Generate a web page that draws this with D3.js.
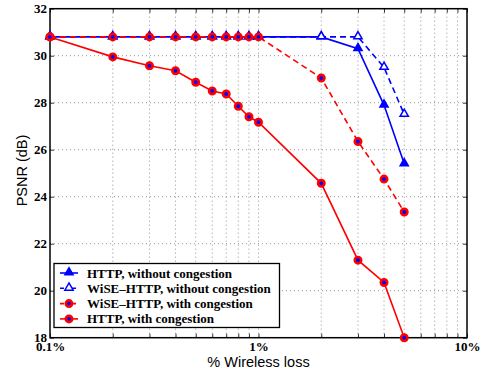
<!DOCTYPE html>
<html>
<head>
<meta charset="utf-8">
<script src="https://cdn.jsdelivr.net/npm/d3@7"></script>
<style>
  html, body { margin: 0; padding: 0; background: #fff; }
  svg { display: block; }
</style>
</head>
<body>
<svg id="chart" width="483" height="372"></svg>
<script>
// Wireless loss rates (%) sampled on the x axis
const lossRates = [0.1, 0.2, 0.3, 0.4, 0.5, 0.6, 0.7, 0.8, 0.9, 1, 2, 3, 4, 5];

// PSNR (dB) per scheme
const httpNoCong     = [30.8, 30.8, 30.8, 30.8, 30.8, 30.8, 30.8, 30.8, 30.8, 30.8, 30.8, 30.3, 27.9, 25.4];
const wiseNoCong     = [30.8, 30.8, 30.8, 30.8, 30.8, 30.8, 30.8, 30.8, 30.8, 30.8, 30.8, 30.8, 29.5, 27.5];
const wiseCong       = [30.8, 30.8, 30.8, 30.8, 30.8, 30.8, 30.8, 30.8, 30.8, 30.8, 29.05, 26.35, 24.75, 23.35];
const httpCong       = [30.8, 29.95, 29.57, 29.36, 28.87, 28.5, 28.37, 27.85, 27.4, 27.17, 24.57, 21.3, 20.35, 18.0];

const seriesNames = [
  "HTTP, without congestion",
  "WiSE\u2013HTTP, without congestion",
  "WiSE\u2013HTTP, with congestion",
  "HTTP, with congestion"
];

const yTicks = [18, 20, 22, 24, 26, 28, 30, 32];
const xMajorTicks = [0.1, 1, 10];
const xTickLabels = ["0.1%", "1%", "10%"];
const xMinorTicks = [0.2, 0.3, 0.4, 0.5, 0.6, 0.7, 0.8, 0.9, 1, 2, 3, 4, 5, 6, 7, 8, 9];

const svg = d3.select("#chart");
const plotLeft = 50, plotRight = 467, plotTop = 8.7, plotBottom = 337.7;

const x = d3.scaleLog().domain([0.1, 10]).range([plotLeft, plotRight]);
const y = d3.scaleLinear().domain([18, 32]).range([plotBottom, plotTop]);

const serif = "'Liberation Serif', 'Times New Roman', serif";
const sans = "'Liberation Sans', Arial, Helvetica, sans-serif";

// Dotted grid
const grid = svg.append("g").attr("stroke", "#777").attr("stroke-width", 0.8)
  .attr("stroke-dasharray", "1,3");
grid.selectAll("line.gx").data(xMinorTicks).join("line")
  .attr("class", "gx")
  .attr("x1", d => x(d)).attr("x2", d => x(d))
  .attr("y1", plotTop).attr("y2", plotBottom);
grid.selectAll("line.gy").data(yTicks.filter(t => t > 18 && t < 32)).join("line")
  .attr("class", "gy")
  .attr("x1", plotLeft).attr("x2", plotRight)
  .attr("y1", d => y(d)).attr("y2", d => y(d));

// Axes (bottom + left with labels, top + right mirrored ticks inward)
const tickFmt = d => { const i = xMajorTicks.indexOf(d); return i >= 0 ? xTickLabels[i] : ""; };
const allXTicks = [0.1].concat(xMinorTicks, [10]);

const xAxis = svg.append("g").attr("transform", `translate(0,${plotBottom})`)
  .call(d3.axisBottom(x).tickValues(allXTicks).tickFormat(tickFmt).tickSizeInner(-4).tickSizeOuter(0).tickPadding(8));
const xAxisTop = svg.append("g").attr("transform", `translate(0,${plotTop})`)
  .call(d3.axisTop(x).tickValues(allXTicks).tickFormat("").tickSizeInner(-4).tickSizeOuter(0));
const yAxis = svg.append("g").attr("transform", `translate(${plotLeft},0)`)
  .call(d3.axisLeft(y).tickValues(yTicks).tickFormat(d3.format("d")).tickSizeInner(-4).tickSizeOuter(0).tickPadding(3));
const yAxisRight = svg.append("g").attr("transform", `translate(${plotRight},0)`)
  .call(d3.axisRight(y).tickValues(yTicks).tickFormat("").tickSizeInner(-4).tickSizeOuter(0));

[xAxis, xAxisTop, yAxis, yAxisRight].forEach(g => {
  g.select(".domain").remove();
  g.selectAll(".tick line").attr("stroke", "#000").attr("stroke-width", 0.8);
  g.selectAll("text").attr("fill", "#000").attr("font-family", serif)
    .attr("font-weight", "bold").attr("font-size", 13);
});
xAxis.selectAll(".tick text").attr("y", 4);

// Plot box
svg.append("rect").attr("x", plotLeft).attr("y", plotTop)
  .attr("width", plotRight - plotLeft).attr("height", plotBottom - plotTop)
  .attr("fill", "none").attr("stroke", "#000").attr("stroke-width", 1.5);

// Axis titles
svg.append("text").attr("x", 258.5).attr("y", 367)
  .attr("text-anchor", "middle").attr("font-family", sans).attr("font-size", 14.5)
  .text("% Wireless loss");
svg.append("text").attr("transform", `translate(26.5,170.5) rotate(-90)`)
  .attr("text-anchor", "middle").attr("font-family", sans).attr("font-size", 14.5)
  .text("PSNR (dB)");

// Series definitions
const series = [
  { name: seriesNames[0], values: httpNoCong, color: "#0000ff", dash: null, marker: "triFilled" },
  { name: seriesNames[1], values: wiseNoCong, color: "#0000ff", dash: "6,4", marker: "triHollow" },
  { name: seriesNames[2], values: wiseCong, color: "#ff0000", dash: "6,4", marker: "circle" },
  { name: seriesNames[3], values: httpCong, color: "#ff0000", dash: null, marker: "circle" }
];

const line = d3.line().x(d => x(d[0])).y(d => y(d[1]));
const tri = d3.symbol().type(d3.symbolTriangle).size(30);

function drawMarker(g, m, cx, cy) {
  if (m === "triFilled") {
    g.append("path").attr("d", tri()).attr("transform", `translate(${cx},${cy - 0.5})`)
      .attr("fill", "#0000ff").attr("stroke", "#0000ff").attr("stroke-width", 1.4);
  } else if (m === "triHollow") {
    g.append("path").attr("d", tri()).attr("transform", `translate(${cx},${cy - 0.5})`)
      .attr("fill", "#fff").attr("stroke", "#0000ff").attr("stroke-width", 1.5);
  } else {
    g.append("circle").attr("cx", cx).attr("cy", cy).attr("r", 3.2)
      .attr("fill", "#0000ff").attr("stroke", "#ff0000").attr("stroke-width", 2.6);
  }
}

const plot = svg.append("g");
series.forEach(s => {
  const pts = lossRates.map((r, i) => [r, s.values[i]]);
  plot.append("path").datum(pts).attr("d", line)
    .attr("fill", "none").attr("stroke", s.color).attr("stroke-width", 1.6)
    .attr("stroke-dasharray", s.dash);
  const mg = plot.append("g");
  pts.forEach(p => drawMarker(mg, s.marker, x(p[0]), y(p[1])));
});

// Legend
const lg = svg.append("g");
const lgX = 54, lgY = 263.5, lgW = 225.5, lgH = 64;
lg.append("rect").attr("x", lgX).attr("y", lgY).attr("width", lgW).attr("height", lgH)
  .attr("fill", "#fff").attr("stroke", "#000").attr("stroke-width", 1.3);
series.forEach((s, i) => {
  const ry = lgY + 9.5 + i * 15.3;
  lg.append("line").attr("x1", 60).attr("x2", 78).attr("y1", ry).attr("y2", ry)
    .attr("stroke", s.color).attr("stroke-width", 1.6).attr("stroke-dasharray", s.dash ? "4,2" : null);
  drawMarker(lg, s.marker, 69, ry);
  lg.append("text").attr("x", 87).attr("y", ry).attr("dy", "0.35em")
    .attr("font-family", serif).attr("font-weight", "bold").attr("font-size", 13)
    .text(s.name);
});
</script>
</body>
</html>
